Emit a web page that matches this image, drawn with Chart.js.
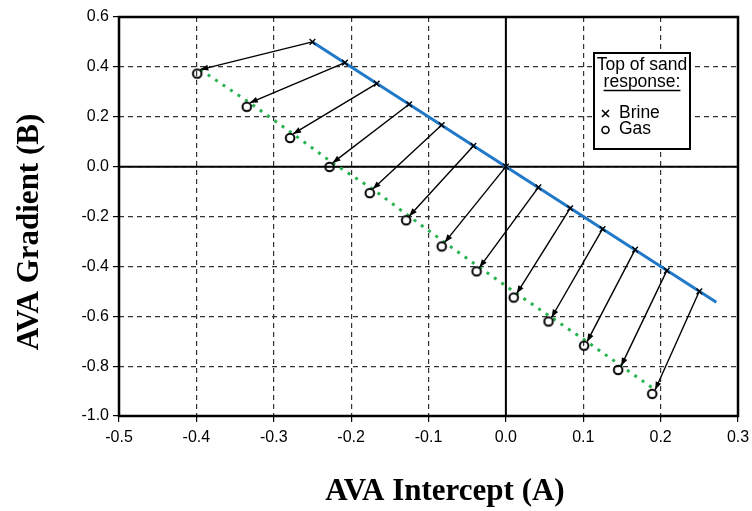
<!DOCTYPE html>
<html>
<head>
<meta charset="utf-8">
<script src="https://cdn.jsdelivr.net/npm/chart.js@4.4.1/dist/chart.umd.min.js"></script>
<style>
  html, body { margin: 0; padding: 0; background: #fff; }
  #wrap { width: 752px; height: 511px; position: relative; }
</style>
</head>
<body>
<div id="wrap"><canvas id="ava"></canvas></div>
<script>
// Top of sand response, brine vs gas (AVA intercept A, gradient B)
const brineA = [-0.25, -0.208, -0.167, -0.125, -0.083, -0.042, 0.0, 0.042, 0.083, 0.125, 0.167, 0.208, 0.25];
const brineB = [0.5, 0.417, 0.333, 0.25, 0.167, 0.083, 0.0, -0.083, -0.167, -0.25, -0.333, -0.417, -0.5];
const gasA = [-0.395, -0.331, -0.275, -0.224, -0.172, -0.125, -0.079, -0.034, 0.014, 0.059, 0.105, 0.149, 0.193];
const gasB = [0.389, 0.256, 0.131, 0.015, -0.09, -0.199, -0.304, -0.404, -0.509, -0.605, -0.702, -0.799, -0.895];
// fluid line for brine sands
const trendA = [-0.25, 0.272];
const trendB = [0.5, -0.544];

const xTicks = [-0.5, 0.3, 0.1];   // min, max, step
const yTicks = [-1.0, 0.6, 0.2];

const pts = (xs, ys) => xs.map((x, i) => ({ x: x, y: ys[i] }));

// open circle sitting a little below-left of the gas arrow tip
const ring = document.createElement('canvas');
ring.width = 24; ring.height = 24;
(function () {
  const c = ring.getContext('2d');
  c.strokeStyle = '#000';
  c.lineWidth = 2;
  c.beginPath();
  c.arc(9, 16, 4.3, 0, Math.PI * 2);
  c.stroke();
})();

const frame = {
  id: 'frame',
  beforeDatasetsDraw(chart) {
    const { ctx, chartArea: a, scales: { x, y } } = chart;
    ctx.save();
    ctx.strokeStyle = '#000';
    ctx.lineWidth = 2;
    const x0 = x.getPixelForValue(0), y0 = y.getPixelForValue(0);
    ctx.beginPath();
    ctx.moveTo(x0, a.top); ctx.lineTo(x0, a.bottom);
    ctx.moveTo(a.left, y0); ctx.lineTo(a.right, y0);
    ctx.stroke();
    ctx.lineWidth = 2.5;
    ctx.strokeRect(a.left, a.top, a.right - a.left, a.bottom - a.top);
    ctx.restore();
  }
};

const arrows = {
  id: 'arrows',
  afterDatasetsDraw(chart) {
    const ctx = chart.ctx;
    const from = chart.getDatasetMeta(2).data;
    const to = chart.getDatasetMeta(1).data;
    ctx.save();
    ctx.strokeStyle = '#000';
    ctx.fillStyle = '#000';
    ctx.lineWidth = 1.4;
    for (let i = 0; i < from.length; i++) {
      const p = from[i], q = to[i];
      const ang = Math.atan2(q.y - p.y, q.x - p.x);
      ctx.beginPath();
      ctx.moveTo(p.x, p.y);
      ctx.lineTo(q.x, q.y);
      ctx.stroke();
      const L = 8, W = 3;
      ctx.beginPath();
      ctx.moveTo(q.x, q.y);
      ctx.lineTo(q.x - L * Math.cos(ang) + W * Math.sin(ang), q.y - L * Math.sin(ang) - W * Math.cos(ang));
      ctx.lineTo(q.x - L * Math.cos(ang) - W * Math.sin(ang), q.y - L * Math.sin(ang) + W * Math.cos(ang));
      ctx.closePath();
      ctx.fill();
    }
    ctx.restore();
  }
};

const labels = {
  id: 'labels',
  afterDraw(chart) {
    const ctx = chart.ctx;
    ctx.save();
    // axis titles
    ctx.fillStyle = '#000';
    ctx.font = 'bold 31px "Liberation Serif", "Times New Roman", serif';
    ctx.textAlign = 'center';
    ctx.textBaseline = 'alphabetic';
    ctx.fillText('AVA Intercept (A)', 445, 500);
    ctx.translate(38, 232);
    ctx.rotate(-Math.PI / 2);
    ctx.fillText('AVA Gradient (B)', 0, 0);
    ctx.restore();

    // key box
    ctx.save();
    const bx = 594, by = 53, bw = 96, bh = 96;
    ctx.fillStyle = '#fff';
    ctx.fillRect(bx, by, bw, bh);
    ctx.strokeStyle = '#000';
    ctx.lineWidth = 2;
    ctx.strokeRect(bx, by, bw, bh);
    ctx.fillStyle = '#000';
    ctx.font = '17.5px "Liberation Sans", Arial, sans-serif';
    ctx.textAlign = 'center';
    ctx.textBaseline = 'middle';
    ctx.fillText('Top of sand', bx + bw / 2, 65);
    ctx.fillText('response:', bx + bw / 2, 82);
    const w = ctx.measureText('response:').width;
    ctx.lineWidth = 1.3;
    ctx.beginPath();
    ctx.moveTo(bx + bw / 2 - w / 2, 90.5);
    ctx.lineTo(bx + bw / 2 + w / 2, 90.5);
    ctx.stroke();
    ctx.textAlign = 'left';
    ctx.fillText('Brine', 619, 113);
    ctx.fillText('Gas', 619, 129);
    ctx.lineWidth = 1.6;
    ctx.beginPath();
    ctx.moveTo(602, 110); ctx.lineTo(609, 117);
    ctx.moveTo(609, 110); ctx.lineTo(602, 117);
    ctx.stroke();
    ctx.beginPath();
    ctx.arc(605.5, 130, 3.5, 0, Math.PI * 2);
    ctx.stroke();
    ctx.restore();
  }
};

const tickFont = { family: '"Liberation Sans", Arial, sans-serif', size: 16 };

new Chart(document.getElementById('ava'), {
  type: 'scatter',
  data: {
    datasets: [
      {
        label: 'Brine trend',
        data: pts(trendA, trendB),
        showLine: true,
        borderColor: '#1f78c8',
        borderWidth: 3,
        pointRadius: 0,
        order: 4
      },
      {
        label: 'Gas',
        data: pts(gasA, gasB),
        showLine: true,
        borderColor: '#27b34f',
        borderWidth: 3,
        borderDash: [3, 6],
        borderCapStyle: 'butt',
        pointStyle: ring,
        pointRadius: 5,
        order: 3
      },
      {
        label: 'Brine',
        data: pts(brineA, brineB),
        pointStyle: 'crossRot',
        pointRadius: 4,
        borderColor: '#000',
        borderWidth: 1.4,
        order: 2
      }
    ]
  },
  options: {
    responsive: true,
    maintainAspectRatio: false,
    animation: false,
    layout: { padding: { top: 17, right: 14, left: 0, bottom: 0 } },
    plugins: {
      legend: { display: false },
      tooltip: { enabled: false }
    },
    scales: {
      x: {
        type: 'linear',
        min: xTicks[0],
        max: xTicks[1],
        afterFit(s) { s.height = 95; s.paddingLeft = 0; s.paddingRight = 0; },
        ticks: {
          stepSize: xTicks[2],
          color: '#000',
          font: tickFont,
          padding: 6,
          maxRotation: 0,
          callback: v => v.toFixed(1)
        },
        grid: { color: '#333', lineWidth: 1.2, tickLength: 6, tickColor: '#000', tickWidth: 1.2, tickBorderDash: [] },
        border: { display: false, dash: [5, 4] }
      },
      y: {
        type: 'linear',
        min: yTicks[0],
        max: yTicks[1],
        afterFit(s) { s.width = 119; s.paddingTop = 0; s.paddingBottom = 0; },
        ticks: {
          stepSize: yTicks[2],
          color: '#000',
          font: tickFont,
          padding: 4,
          callback: v => v.toFixed(1)
        },
        grid: { color: '#333', lineWidth: 1.2, tickLength: 6, tickColor: '#000', tickWidth: 1.2, tickBorderDash: [] },
        border: { display: false, dash: [5, 4] }
      }
    }
  },
  plugins: [frame, arrows, labels]
});
</script>
</body>
</html>
